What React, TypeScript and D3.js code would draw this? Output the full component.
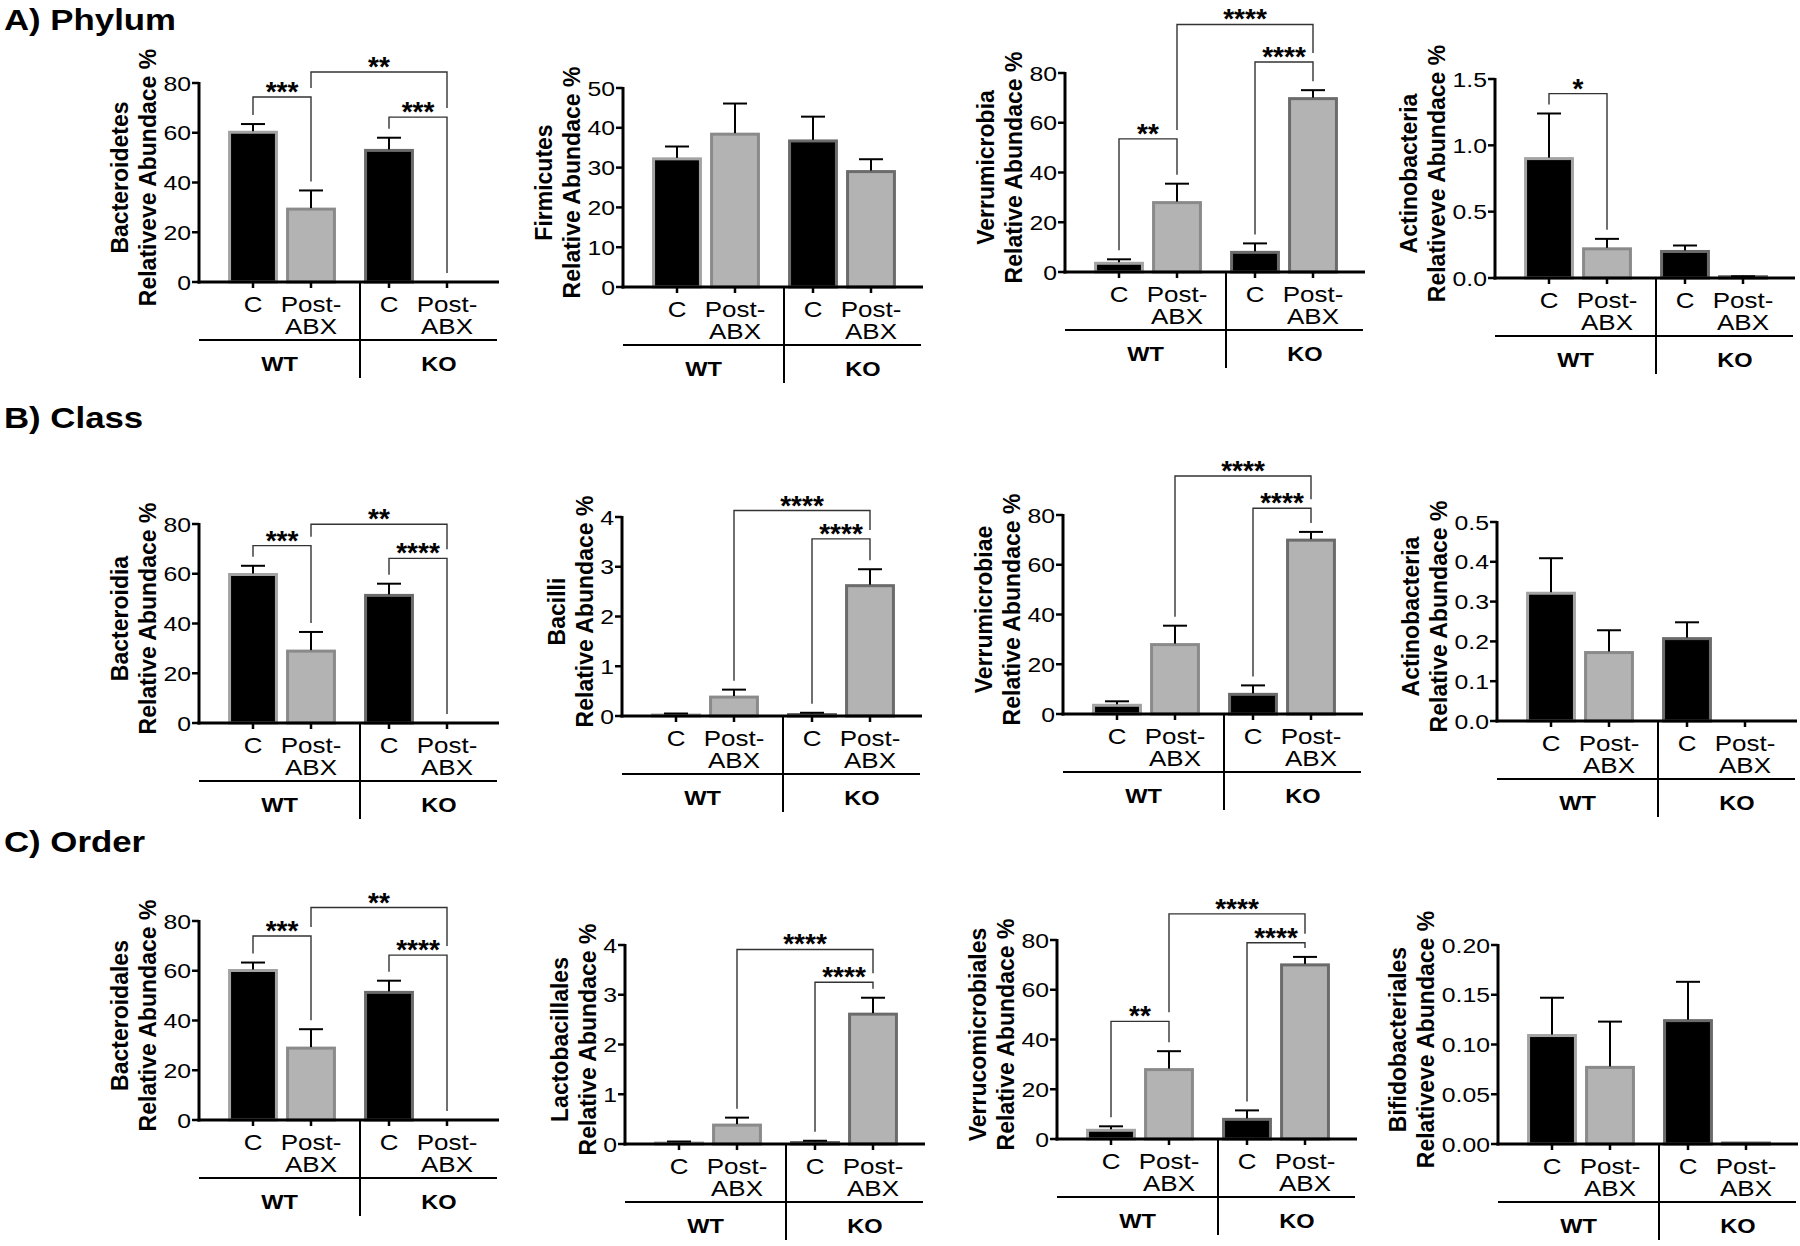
import React from 'react';
import * as d3 from 'd3';

const groups = ['WT', 'KO'];
const conditions = ['C', 'Post-ABX'];

// bar order: WT C, WT Post-ABX, KO C, KO Post-ABX
// A) Phylum
const bacteroidetesMean = [60.2, 29.3, 52.9, 0];
const bacteroidetesSem = [3.3, 7.5, 5.1, 0];
const bacteroidetesSig = [[0, 1, 74.4, '***'], [1, 3, 84.4, '**'], [2, 3, 66.3, '***']];

const firmicutesMean = [32.2, 38.4, 36.7, 29.0];
const firmicutesSem = [3.1, 7.7, 6.1, 3.1];

const verrumicrobiaMean = [3.5, 27.9, 7.9, 69.7];
const verrumicrobiaSem = [1.6, 7.6, 3.6, 3.4];
const verrumicrobiaSig = [[0, 1, 53.5, '**'], [1, 3, 99.5, '****'], [2, 3, 84.4, '****']];

const actinoPhylumMean = [0.9, 0.22, 0.2, 0.01];
const actinoPhylumSem = [0.34, 0.075, 0.045, 0.003];
const actinoPhylumSig = [[0, 1, 1.39, '*']];

// B) Class
const bacteroidiaMean = [59.7, 28.9, 51.3, 0];
const bacteroidiaSem = [3.5, 7.7, 4.7, 0];
const bacteroidiaSig = [[0, 1, 71.3, '***'], [1, 3, 79.9, '**'], [2, 3, 66.2, '****']];

const bacilliMean = [0.02, 0.38, 0.03, 2.62];
const bacilliSem = [0.03, 0.15, 0.035, 0.33];
const bacilliSig = [[1, 3, 4.13, '****'], [2, 3, 3.56, '****']];

const verrumicrobiaeMean = [3.5, 27.9, 7.9, 69.9];
const verrumicrobiaeSem = [1.6, 7.6, 3.6, 3.3];
const verrumicrobiaeSig = [[1, 3, 95.7, '****'], [2, 3, 82.7, '****']];

const actinoClassMean = [0.321, 0.172, 0.207, 0];
const actinoClassSem = [0.088, 0.056, 0.041, 0];

// C) Order
const bacteroidalesMean = [60.1, 28.9, 51.3, 0];
const bacteroidalesSem = [3.2, 7.6, 4.7, 0];
const bacteroidalesSig = [[0, 1, 74.0, '***'], [1, 3, 85.4, '**'], [2, 3, 66.3, '****']];

const lactobacillalesMean = [0.02, 0.38, 0.03, 2.61];
const lactobacillalesSem = [0.03, 0.15, 0.035, 0.33];
const lactobacillalesSig = [[1, 3, 3.91, '****'], [2, 3, 3.25, '****']];

const verrucomicrobialesMean = [3.5, 27.9, 7.9, 70.0];
const verrucomicrobialesSem = [1.6, 7.4, 3.6, 3.2];
const verrucomicrobialesSig = [[0, 1, 47.3, '**'], [1, 3, 90.5, '****'], [2, 3, 78.9, '****']];

const bifidoMean = [0.109, 0.077, 0.124, 0.001];
const bifidoSem = [0.038, 0.046, 0.039, 0];

const sectionTitles = ['A) Phylum', 'B) Class', 'C) Order'];

const panels = [
  { taxon: 'Bacteroidetes', ylab: 'Relativeve Abundace %', mean: bacteroidetesMean, sem: bacteroidetesSem, yMax: 80, ticks: 4, fmt: 'd', sig: bacteroidetesSig },
  { taxon: 'Firmicutes', ylab: 'Relative Abundace %', mean: firmicutesMean, sem: firmicutesSem, yMax: 50, ticks: 5, fmt: 'd', sig: [] },
  { taxon: 'Verrumicrobia', ylab: 'Relative Abundace %', mean: verrumicrobiaMean, sem: verrumicrobiaSem, yMax: 80, ticks: 4, fmt: 'd', sig: verrumicrobiaSig },
  { taxon: 'Actinobacteria', ylab: 'Relativeve Abundace %', mean: actinoPhylumMean, sem: actinoPhylumSem, yMax: 1.5, ticks: 3, fmt: '.1f', sig: actinoPhylumSig },
  { taxon: 'Bacteroidia', ylab: 'Relative Abundace %', mean: bacteroidiaMean, sem: bacteroidiaSem, yMax: 80, ticks: 4, fmt: 'd', sig: bacteroidiaSig },
  { taxon: 'Bacilli', ylab: 'Relative Abundace %', mean: bacilliMean, sem: bacilliSem, yMax: 4, ticks: 4, fmt: 'd', sig: bacilliSig },
  { taxon: 'Verrumicrobiae', ylab: 'Relative Abundace %', mean: verrumicrobiaeMean, sem: verrumicrobiaeSem, yMax: 80, ticks: 4, fmt: 'd', sig: verrumicrobiaeSig },
  { taxon: 'Actinobacteria', ylab: 'Relative Abundace %', mean: actinoClassMean, sem: actinoClassSem, yMax: 0.5, ticks: 5, fmt: '.1f', sig: [] },
  { taxon: 'Bacteroidales', ylab: 'Relative Abundace %', mean: bacteroidalesMean, sem: bacteroidalesSem, yMax: 80, ticks: 4, fmt: 'd', sig: bacteroidalesSig },
  { taxon: 'Lactobacillales', ylab: 'Relative Abundace %', mean: lactobacillalesMean, sem: lactobacillalesSem, yMax: 4, ticks: 4, fmt: 'd', sig: lactobacillalesSig },
  { taxon: 'Verrucomicrobiales', ylab: 'Relative Abundace %', mean: verrucomicrobialesMean, sem: verrucomicrobialesSem, yMax: 80, ticks: 4, fmt: 'd', sig: verrucomicrobialesSig },
  { taxon: 'Bifidobacteriales', ylab: 'Relativeve Abundace %', mean: bifidoMean, sem: bifidoSem, yMax: 0.2, ticks: 4, fmt: '.2f', sig: [] },
];

// layout: axis origin of each panel (x of y-axis, y of zero line)
const origins = [
  [199, 282], [623, 287], [1065, 272], [1495, 278],
  [199, 723], [622, 716], [1063, 714], [1497, 721],
  [199, 1120], [625, 1144], [1057, 1139], [1498, 1144],
];
const titleY = [30, 428, 852];

const FONT = '"Liberation Sans", Arial, Helvetica, sans-serif';
const SX = 1.18; // horizontal stretch of the upright text in the original figure
const AXIS_H = 199;
const fills = ['#000', '#b3b3b3', '#000', '#b3b3b3'];
const strokes = ['#a3a3a3', '#8a8a8a', '#6b6b6b', '#6b6b6b'];

function textWidth(s, size) {
  let w = 0;
  for (const ch of s) w += ch === '.' ? 0.278 : 0.556;
  return w * size * SX;
}

function Panel({ p, x0, y0 }) {
  const y = d3.scaleLinear().domain([0, p.yMax]).range([y0, y0 - AXIS_H]);
  const gx = d3.scaleBand().domain(groups).range([x0 + 15, x0 + 287]);
  const cx = d3.scaleBand().domain(conditions).range([0, gx.bandwidth()]).paddingInner(0.14).paddingOuter(0.2425);
  const bw = cx.bandwidth();
  const xc = (i) => gx(groups[Math.floor(i / 2)]) + cx(conditions[i % 2]) + bw / 2;
  const ticks = y.ticks(p.ticks);
  const fmt = d3.format(p.fmt);
  const divX = gx('KO') + 10;
  const axisEnd = x0 + 300;
  const lineY = y0 + 58;
  const maxLabel = d3.max(ticks, (t) => textWidth(fmt(t), 21));
  const t2x = x0 - 9 - maxLabel - 15;
  const t1x = t2x - 28;
  const tMid = y0 - AXIS_H / 2 - 5;

  // leg ends of significance brackets: stop a little above whatever lies below
  const legEnd = (b, k) => {
    let top = p.mean[k] + p.sem[k];
    for (const o of p.sig) {
      if (o !== b && o[2] < b[2] && (o[0] === k || o[1] === k)) top = Math.max(top, o[2]);
    }
    return y(top) - 9;
  };

  return (
    <g>
      {/* bars */}
      {p.mean.map((m, i) => (
        <rect key={'b' + i} x={xc(i) - bw / 2 + 1.5} width={bw - 3}
          y={y(m)} height={Math.max(0, y0 - y(m))}
          fill={fills[i]} stroke={m > 0 ? strokes[i] : 'none'} strokeWidth={3} />
      ))}
      {/* error bars */}
      {p.mean.map((m, i) => p.sem[i] > 0 ? (
        <g key={'e' + i} stroke="#000" strokeWidth={2}>
          <line x1={xc(i)} x2={xc(i)} y1={y(m) - 1} y2={y(m + p.sem[i])} />
          <line x1={xc(i) - 12} x2={xc(i) + 12} y1={y(m + p.sem[i])} y2={y(m + p.sem[i])} />
        </g>
      ) : null)}
      {/* y axis */}
      <line x1={x0} x2={x0} y1={y0 + 1.5} y2={y(p.yMax) - 1} stroke="#000" strokeWidth={3} />
      {ticks.map((t) => (
        <g key={'t' + t}>
          <line x1={x0 - 7} x2={x0} y1={y(t)} y2={y(t)} stroke="#000" strokeWidth={2.5} />
          <text transform={`translate(${x0 - 8},${y(t)}) scale(${SX},1)`} dy="0.36em" textAnchor="end"
            fontSize={21} fontFamily={FONT}>{fmt(t)}</text>
        </g>
      ))}
      {/* x axis */}
      <line x1={x0 - 1.5} x2={axisEnd} y1={y0} y2={y0} stroke="#000" strokeWidth={3} />
      {p.mean.map((m, i) => (
        <line key={'xt' + i} x1={xc(i)} x2={xc(i)} y1={y0} y2={y0 + 6} stroke="#000" strokeWidth={2.5} />
      ))}
      {p.mean.map((m, i) => (
        i % 2 === 0 ? (
          <text key={'xl' + i} transform={`translate(${xc(i)},${y0 + 30}) scale(${SX},1)`} textAnchor="middle"
            fontSize={22} fontFamily={FONT}>{conditions[0]}</text>
        ) : (
          <text key={'xl' + i} transform={`translate(${xc(i)},${y0 + 30}) scale(${SX},1)`} textAnchor="middle"
            fontSize={22} fontFamily={FONT}>
            <tspan x={0}>Post-</tspan>
            <tspan x={0} dy={22}>ABX</tspan>
          </text>
        )
      ))}
      {/* group line */}
      <line x1={x0} x2={x0 + 298} y1={lineY} y2={lineY} stroke="#000" strokeWidth={2} />
      <line x1={divX} x2={divX} y1={y0} y2={y0 + 96} stroke="#000" strokeWidth={2} />
      <text transform={`translate(${(x0 + divX) / 2},${y0 + 89}) scale(${SX},1)`} textAnchor="middle"
        fontSize={20} fontWeight="bold" fontFamily={FONT}>{groups[0]}</text>
      <text transform={`translate(${divX + 79},${y0 + 89}) scale(${SX},1)`} textAnchor="middle"
        fontSize={20} fontWeight="bold" fontFamily={FONT}>{groups[1]}</text>
      {/* y title */}
      <text transform={`translate(${t1x},${tMid}) rotate(-90)`} dy="0.36em" textAnchor="middle"
        fontSize={23} fontWeight="bold" fontFamily={FONT}>{p.taxon}</text>
      <text transform={`translate(${t2x},${tMid}) rotate(-90)`} dy="0.36em" textAnchor="middle"
        fontSize={23} fontWeight="bold" fontFamily={FONT}>{p.ylab}</text>
      {/* significance */}
      {p.sig.map((b, k) => {
        const xa = xc(b[0]);
        const xb = xc(b[1]);
        const yt = y(b[2]);
        return (
          <g key={'s' + k}>
            <path d={`M${xa},${legEnd(b, b[0])}V${yt}H${xb}V${legEnd(b, b[1])}`}
              fill="none" stroke="#333" strokeWidth={1.4} />
            <text x={(xa + xb) / 2} y={yt + 4} textAnchor="middle" fontSize={28} fontWeight="bold"
              fontFamily={FONT}>{b[3]}</text>
          </g>
        );
      })}
    </g>
  );
}

export default function App() {
  return (
    <div style={{ position: 'absolute', left: 0, top: 0 }}>
      <svg width={1800} height={1246} style={{ display: 'block', background: '#fff' }}>
        <rect width={1800} height={1246} fill="#fff" />
        {sectionTitles.map((t, i) => (
          <text key={t} transform={`translate(4,${titleY[i]}) scale(1.2,1)`} fontSize={29}
            fontWeight="bold" fontFamily={FONT}>{t}</text>
        ))}
        {panels.map((p, i) => (
          <Panel key={i} p={p} x0={origins[i][0]} y0={origins[i][1]} />
        ))}
      </svg>
    </div>
  );
}
